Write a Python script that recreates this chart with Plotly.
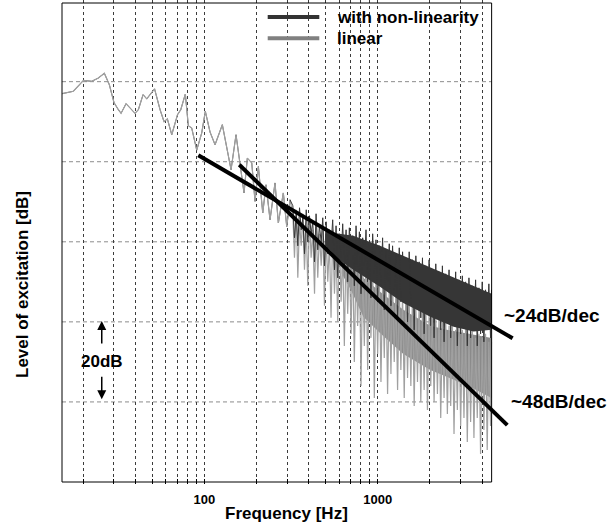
import math
import plotly.graph_objects as go

# ---------------- data ----------------
# shared low-frequency part of both spectra (Hz, dB)
low_f = [15.11, 17.56, 20.06, 22.42, 24.47, 26.50, 28.31, 30.14, 31.92, 33.08, 35.35, 39.84,
         41.63, 44.32, 46.54, 51.62, 55.53, 58.56, 61.18, 64.86, 70.04, 73.10, 77.69, 80.85,
         84.58, 90.4, 96.6, 101.3, 107.9, 115.3, 127.0, 134.7, 142.6, 152.3, 160.6, 169.4,
         177.0, 187.7, 196.1, 204.9, 217.2, 226.9, 239.3, 255.7, 267.2, 285.5, 298.7, 312.0]
low_db = [-23.0, -22.4, -19.7, -19.9, -19.1, -17.9, -20.75, -25.25, -27.0, -27.9, -25.5, -27.9,
          -27.0, -23.25, -24.3, -21.8, -27.0, -30.0, -29.3, -33.25, -28.25, -27.0, -23.1, -31.0,
          -31.6, -37.1, -32.8, -27.4, -32.6, -35.75, -30.75, -37.0, -42.0, -33.25, -40.3, -47.8,
          -39.1, -40.3, -49.9, -41.2, -52.8, -45.75, -54.5, -45.3, -55.3, -47.8, -56.2, -49.5]

# dense high-frequency part: shared frequency bins (Hz)
hf_f = [324, 331, 339, 346, 354, 362, 370, 378, 387, 395,
        404, 413, 422, 432, 441, 451, 461, 472, 482, 493,
        504, 515, 527, 538, 550, 563, 575, 588, 601, 615,
        628, 642, 657, 671, 686, 702, 717, 733, 750, 766,
        784, 801, 819, 837, 856, 875, 894, 914, 935, 956,
        977, 999, 1021, 1044, 1067, 1091, 1115, 1140, 1166, 1192,
        1218, 1245, 1273, 1302, 1331, 1360, 1391, 1422, 1453, 1486,
        1519, 1553, 1587, 1623, 1659, 1696, 1734, 1772, 1812, 1852,
        1894, 1936, 1979, 2023, 2068, 2114, 2162, 2210, 2259, 2309,
        2361, 2414, 2467, 2522, 2579, 2636, 2695, 2755, 2816, 2879,
        2943, 3009, 3076, 3144, 3214, 3286, 3359, 3434, 3511, 3589,
        3669, 3751, 3834, 3920, 4007, 4096, 4188, 4281, 4376, 4474, 4530]

# with non-linearity (dB)
nl_db = [-51, -59, -53, -61, -51.5, -57, -54, -63, -52, -60,
         -53.5, -58, -55, -65, -53, -62, -56, -60, -54, -66,
         -55, -63, -57, -61, -54.5, -67, -56, -69, -58, -64,
         -55.5, -66, -57, -70, -56.5, -63, -58.5, -71, -56, -67,
         -57.5, -73, -59, -66, -57, -70, -60, -74, -58, -68,
         -59.5, -75, -61, -71, -59, -77, -62, -70, -60.5, -76,
         -61, -73, -63, -79, -61.5, -75, -62.5, -72, -64, -80,
         -62.5, -76, -64.5, -82, -63.5, -74, -65, -79, -64, -83,
         -66, -77, -64.5, -81, -67, -84, -65.5, -79, -67.5, -82,
         -66, -85, -68, -78, -67, -84, -69, -81, -67.5, -86,
         -69.5, -83, -68.5, -80, -70, -86, -69, -84, -71, -81,
         -69.5, -86, -71.5, -83, -70, -85, -72, -81, -70.5, -84, -72]

# linear (dB)
lin_db = [-53, -64, -52, -69, -55, -61, -53, -67, -56, -71,
          -54, -64, -57, -73, -55, -69, -58, -66, -56, -76,
          -58, -70, -60, -79, -57, -73, -61, -80, -59, -75,
          -62, -86, -60, -78, -63, -83, -62, -90, -64, -81,
          -63, -96, -65, -86, -64, -92, -67, -84, -65, -99,
          -68, -88, -67, -95, -70, -89, -68, -98, -71, -93,
          -69, -90, -72, -97, -71, -92, -73, -99, -72, -94,
          -75, -96, -73, -101, -76, -95, -75, -100, -77, -97,
          -76, -102, -78, -96, -77, -100, -79, -98, -78, -104,
          -80, -99, -79, -103, -81, -101, -80, -108, -82, -102,
          -81, -106, -82, -104, -81, -110, -83, -105, -82, -109,
          -84, -104, -83, -113, -84, -107, -83, -112, -85, -106, -85]

# dense bodies of the spectra (upper / lower edge)
lin_band_f = [620, 700, 826, 1031, 1405, 2011, 2500, 3407, 4540]
lin_band_hi = [-64, -66, -69, -72.5, -77, -81, -82, -83, -84]
lin_band_lo = [-68, -72, -78.7, -82.8, -88, -92, -93.7, -96.2, -99]

nl_band_f = [500, 600, 723, 1031, 1405, 2011, 2740, 3573, 4540]
nl_band_hi = [-57.5, -58, -58.5, -61, -63.5, -66.5, -69, -71, -73]
nl_band_lo = [-61, -64.5, -67, -71.2, -75.3, -78.7, -81.2, -82.4, -82]

# slope lines
slope24_f = [92.3, 6000]
slope24_db = [-38.4, -84.1]
slope48_f = [159.1, 5590]
slope48_db = [-40.75, -105.8]

grid_f = [20, 30, 40, 50, 60, 70, 80, 90, 100, 200, 300, 400, 500, 600, 700, 800, 900,
          1000, 2000, 3000, 4000]
tick_labels = {100: "100", 1000: "1000"}
grid_db = [-100, -80, -60, -40, -20]

F_MIN, F_MAX = 15.1, 4540
DB_MIN, DB_MAX = -120, -0.35

DARK = "#363636"
GRAY = "#8a8a8a"
LIGHT = "#a0a0a0"
FONT = "Liberation Sans"

fig = go.Figure()

# non-linear low part (lies under the linear one: identical values)
fig.add_trace(go.Scatter(x=low_f, y=low_db, mode="lines", line=dict(color=DARK, width=0.8)))
# linear spectrum
fig.add_trace(go.Scatter(x=lin_band_f + lin_band_f[::-1], y=lin_band_hi + lin_band_lo[::-1],
                         mode="lines", fill="toself", fillcolor=GRAY, line=dict(width=0)))
fig.add_trace(go.Scatter(x=low_f + hf_f, y=low_db + lin_db, mode="lines",
                         line=dict(color=LIGHT, width=1.2)))
# non-linear spectrum
fig.add_trace(go.Scatter(x=nl_band_f + nl_band_f[::-1], y=nl_band_hi + nl_band_lo[::-1],
                         mode="lines", fill="toself", fillcolor=DARK, line=dict(width=0)))
fig.add_trace(go.Scatter(x=low_f[-1:] + hf_f, y=low_db[-1:] + nl_db, mode="lines",
                         line=dict(color=DARK, width=1)))
# slopes
fig.add_trace(go.Scatter(x=slope24_f, y=slope24_db, mode="lines", line=dict(color="black", width=4)))
fig.add_trace(go.Scatter(x=slope48_f, y=slope48_db, mode="lines", line=dict(color="black", width=4)))

L, R, T, B = 58, 87, 0, 46
W, H = 612, 530
pw, ph = W - L - R, H - T - B


def px(xp):
    return (xp - L) / pw


def py(yp):
    return 1 - (yp - T) / ph


shapes = []
for g in grid_db:
    shapes.append(dict(type="line", xref="x", yref="y", x0=F_MIN, x1=F_MAX, y0=g, y1=g,
                       line=dict(color="#8c8c8c", width=1, dash="4px,3px"), layer="below"))
# legend box (covers grid)
shapes.append(dict(type="rect", xref="paper", yref="paper", x0=px(232), x1=px(491.5),
                   y0=py(54), y1=1, fillcolor="white", line=dict(width=0), layer="between"))
shapes.append(dict(type="line", xref="paper", yref="paper", x0=px(267.7), x1=px(319.3),
                   y0=py(17), y1=py(17), line=dict(color="#333333", width=4)))
shapes.append(dict(type="line", xref="paper", yref="paper", x0=px(267.7), x1=px(319.3),
                   y0=py(38.3), y1=py(38.3), line=dict(color="#808080", width=4)))
# frame
shapes.append(dict(type="rect", xref="x", yref="y", x0=F_MIN, x1=F_MAX, y0=DB_MIN, y1=DB_MAX,
                   line=dict(color="black", width=1)))

bold = dict(family=FONT, color="black")
arrow_x = math.log10(25.6)
ann = [
    dict(text="<b>with non-linearity</b>", xref="paper", yref="paper", x=px(335), y=py(18),
         xanchor="left", yanchor="middle", showarrow=False, font=dict(size=17, **bold)),
    dict(text="<b>linear</b>", xref="paper", yref="paper", x=px(335), y=py(38.5),
         xanchor="left", yanchor="middle", showarrow=False, font=dict(size=17, **bold)),
    dict(text="<b>~24dB/dec</b>", xref="paper", yref="paper", x=px(502), y=py(315),
         xanchor="left", yanchor="middle", showarrow=False, font=dict(size=19, **bold)),
    dict(text="<b>~48dB/dec</b>", xref="paper", yref="paper", x=px(509), y=py(401.7),
         xanchor="left", yanchor="middle", showarrow=False, font=dict(size=19, **bold)),
    dict(text="<b>20dB</b>", xref="x", yref="y", x=arrow_x, y=-90, xanchor="center",
         yanchor="middle", showarrow=False, font=dict(size=17, **bold)),
    dict(text="", xref="x", yref="y", x=arrow_x, y=-79.8, ax=0, ay=24, showarrow=True,
         arrowhead=2, arrowsize=1.2, arrowwidth=1.5, arrowcolor="black"),
    dict(text="", xref="x", yref="y", x=arrow_x, y=-99.3, ax=0, ay=-24, showarrow=True,
         arrowhead=2, arrowsize=1.2, arrowwidth=1.5, arrowcolor="black"),
    dict(text="<b>Frequency [Hz]</b>", xref="paper", yref="paper", x=px(286), y=py(513),
         xanchor="center", yanchor="middle", showarrow=False, font=dict(size=17, **bold)),
    dict(text="<b>Level of excitation [dB]</b>", xref="paper", yref="paper", x=px(22), y=py(285),
         xanchor="center", yanchor="middle", showarrow=False, textangle=-90,
         font=dict(size=17, **bold)),
]

fig.update_layout(
    width=W, height=H, autosize=False,
    margin=dict(l=L, r=R, t=T, b=B),
    paper_bgcolor="white", plot_bgcolor="white",
    showlegend=False,
    shapes=shapes, annotations=ann,
    xaxis=dict(type="log", range=[math.log10(F_MIN) - 4 / 173.4, 3.8495],
               tickvals=grid_f,
               ticktext=["<b>%s</b>" % tick_labels[v] if v in tick_labels else "" for v in grid_f],
               showgrid=True, gridcolor="#3c3c3c", griddash="dot", gridwidth=1,
               ticks="inside", ticklen=5, tickcolor="black", showline=False, zeroline=False,
               ticklabelstandoff=6, tickfont=dict(size=13, **bold)),
    yaxis=dict(range=[-120.5, 0.4], showgrid=False, showticklabels=False, zeroline=False,
               ticks="", showline=False),
)

fig.write_html("out.html")
